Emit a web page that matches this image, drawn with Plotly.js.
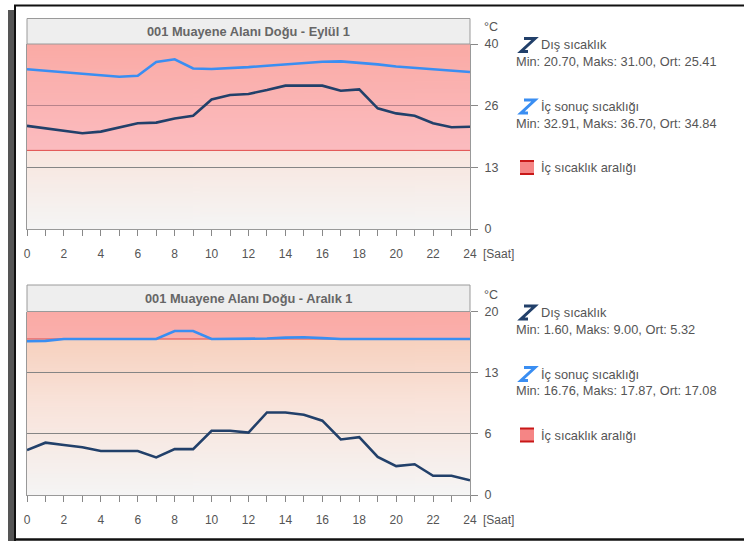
<!DOCTYPE html>
<html>
<head>
<meta charset="utf-8">
<script src="https://cdn.plot.ly/plotly-3.0.1.min.js"></script>
<style>
html,body{margin:0;padding:0;background:#fff;}
#chart{width:744px;height:541px;}
</style>
</head>
<body>
<div id="chart"></div>
<script>
// ---- data ----
const hours = [0,1,2,3,4,5,6,7,8,9,10,11,12,13,14,15,16,17,18,19,20,21,22,23,24];
const xTickVals = [0,2,4,6,8,10,12,14,16,18,20,22,24];

// Chart 1: Eylül 1
const title1 = "001 Muayene Alanı Doğu - Eylül 1";
const disSep = [22.3,21.8,21.2,20.7,21.05,21.9,22.85,23.0,23.9,24.5,28.0,28.97,29.2,30.05,31.0,31.0,31.0,29.9,30.2,26.1,25.0,24.5,22.85,22.0,22.1];
const icSep  = [34.55,34.25,33.95,33.65,33.35,32.91,33.15,36.1,36.7,34.7,34.6,34.75,35.0,35.3,35.6,35.9,36.15,36.25,36.0,35.6,35.15,34.85,34.55,34.25,33.95];
const rangeLowSep  = hours.map(()=>17);
const rangeHighSep = hours.map(()=>40);
const yTickVals1 = [0, 40/3, 80/3, 40];
const yTickText1 = ["0","13","26","40"];
const legendSep = {
  dis: "Dış sıcaklık", disStats: "Min: 20.70, Maks: 31.00, Ort: 25.41",
  ic: "İç sonuç sıcaklığı", icStats: "Min: 32.91, Maks: 36.70, Ort: 34.84",
  range: "İç sıcaklık aralığı"
};

// Chart 2: Aralık 1
const title2 = "001 Muayene Alanı Doğu - Aralık 1";
const disDec = [4.9,5.7,5.45,5.2,4.8,4.8,4.8,4.1,5.0,5.0,7.0,7.0,6.8,9.0,9.0,8.75,8.1,6.05,6.3,4.15,3.15,3.35,2.1,2.1,1.6];
const icDec  = [16.76,16.8,17.0,17.0,17.0,17.0,17.0,17.0,17.87,17.87,17.0,17.0,17.0,17.05,17.15,17.2,17.1,17.0,17.0,17.0,17.0,17.0,17.0,17.0,17.0];
const rangeLowDec  = hours.map(()=>17);
const rangeHighDec = hours.map(()=>20);
const yTickVals2 = [0, 20/3, 40/3, 20];
const yTickText2 = ["0","6","13","20"];
const legendDec = {
  dis: "Dış sıcaklık", disStats: "Min: 1.60, Maks: 9.00, Ort: 5.32",
  ic: "İç sonuç sıcaklığı", icStats: "Min: 16.76, Maks: 17.87, Ort: 17.08",
  range: "İç sıcaklık aralığı"
};
const unitY = "°C";
const unitX = "[Saat]";

// ---- styling helpers ----
const W = 744, H = 541;
const X = px => px/W;
const Y = py => 1 - py/H;
const FONT = "Liberation Sans, Arial, sans-serif";
const TXT = "#555555";
const DARK = "#22406a";
const BLUE = "#3a8ef2";
const BANDLINE = "#e04a4a";
const BANDFILL = "rgba(255,128,148,0.42)";

// gradient background image
function gradientURL(){
  const c = document.createElement('canvas');
  c.width = 4; c.height = 200;
  const g = c.getContext('2d');
  const gr = g.createLinearGradient(0,0,0,200);
  gr.addColorStop(0, '#f6c9b2');
  gr.addColorStop(0.5, '#f9e3da');
  gr.addColorStop(1, '#f5f5f5');
  g.fillStyle = gr; g.fillRect(0,0,4,200);
  return c.toDataURL();
}
const bg = gradientURL();

const plotL = 27, plotR = 470;
const p1 = {top:44, bot:229, titleTop:18.5};
const p2 = {top:311.5, bot:495, titleTop:285};

function traces(xa, ya, low, high, dis, ic){
  return [
    {x:hours, y:low, xaxis:xa, yaxis:ya, type:'scatter', mode:'lines',
     line:{color:BANDLINE, width:1}, hoverinfo:'skip', showlegend:false},
    {x:hours, y:high, xaxis:xa, yaxis:ya, type:'scatter', mode:'lines',
     line:{color:'rgba(0,0,0,0)', width:0}, fill:'tonexty', fillcolor:BANDFILL,
     hoverinfo:'skip', showlegend:false},
    {x:hours, y:dis, xaxis:xa, yaxis:ya, type:'scatter', mode:'lines',
     line:{color:DARK, width:2.6}, showlegend:false},
    {x:hours, y:ic, xaxis:xa, yaxis:ya, type:'scatter', mode:'lines',
     line:{color:BLUE, width:2.6}, showlegend:false}
  ];
}

const data = [
  ...traces('x','y', rangeLowSep, rangeHighSep, disSep, icSep),
  ...traces('x2','y2', rangeLowDec, rangeHighDec, disDec, icDec)
];

function xaxisDef(anchor){
  return {
    domain:[X(plotL), X(plotR)], anchor:anchor, range:[0,24],
    tickmode:'array', tickvals:xTickVals, ticktext:xTickVals.map(String),
    ticks:'outside', ticklen:6, tickcolor:'#888', tickwidth:1,
    minor:{tickmode:'linear', tick0:0, dtick:1, ticks:'outside', ticklen:6, tickcolor:'#888', tickwidth:1, showgrid:false},
    showline:true, linecolor:'#999', linewidth:1,
    showgrid:false, zeroline:false, fixedrange:true,
    tickfont:{family:FONT, size:12, color:TXT}, ticklabelstandoff:8
  };
}
function yaxisDef(anchor, p, rng, tv, tt){
  return {
    domain:[Y(p.bot), Y(p.top)], anchor:anchor, side:'right', range:rng,
    tickmode:'array', tickvals:tv, ticktext:tt,
    ticks:'outside', ticklen:7, tickcolor:'#888', tickwidth:1,
    showline:true, linecolor:'#999', linewidth:1, mirror:true,
    showgrid:true, gridcolor:'#858585', gridwidth:1, zeroline:false, fixedrange:true,
    tickfont:{family:FONT, size:12.5, color:TXT}, ticklabelstandoff:4
  };
}

const shapes = [];
const annotations = [];
const images = [];

function addPanel(p, title, leg){
  images.push({source:bg, xref:'paper', yref:'paper', x:X(plotL), y:Y(p.top),
    sizex:X(plotR)-X(plotL), sizey:Y(p.top)-Y(p.bot), sizing:'stretch',
    xanchor:'left', yanchor:'top', layer:'below'});
  shapes.push({type:'rect', xref:'paper', yref:'paper', x0:X(plotL), x1:X(plotR),
    y0:Y(p.top), y1:Y(p.titleTop), fillcolor:'#eeeeee', line:{color:'#9a9a9a', width:1}});
  annotations.push({xref:'paper', yref:'paper', x:X((plotL+plotR)/2), y:Y((p.top+p.titleTop)/2),
    text:'<b>'+title+'</b>', showarrow:false, xanchor:'center', yanchor:'middle',
    font:{family:FONT, size:12.8, color:'#666'}});
  annotations.push({xref:'paper', yref:'paper', x:X(482), y:Y(p.top-17), text:unitY,
    showarrow:false, xanchor:'left', yanchor:'middle', font:{family:FONT, size:12.5, color:TXT}});
  annotations.push({xref:'paper', yref:'paper', x:X(481), y:Y(p.bot+25), text:unitX,
    showarrow:false, xanchor:'left', yanchor:'middle', font:{family:FONT, size:12, color:TXT}});
  const t0 = p.top + 1;
  const rows = [
    {dy:0, color:DARK, label:leg.dis, stats:leg.disStats},
    {dy:61.5, color:BLUE, label:leg.ic, stats:leg.icStats}
  ];
  rows.forEach(r=>{
    const cy = t0 + r.dy;
    shapes.push({type:'path', xref:'paper', yref:'paper',
      path:`M ${X(524)} ${Y(cy-6.5)} L ${X(535)} ${Y(cy-6.5)} L ${X(521)} ${Y(cy+6.5)} L ${X(528)} ${Y(cy+6.5)}`,
      line:{color:r.color, width:3}});
    annotations.push({xref:'paper', yref:'paper', x:X(539), y:Y(cy), text:r.label,
      showarrow:false, xanchor:'left', yanchor:'middle', font:{family:FONT, size:12.8, color:TXT}});
    annotations.push({xref:'paper', yref:'paper', x:X(514), y:Y(cy+16.5), text:r.stats,
      showarrow:false, xanchor:'left', yanchor:'middle', font:{family:FONT, size:12.8, color:TXT}});
  });
  const ry = t0 + 122.5;
  shapes.push({type:'rect', xref:'paper', yref:'paper', x0:X(520), x1:X(534), y0:Y(ry+7), y1:Y(ry-7),
    fillcolor:'#f58585', line:{width:0}});
  shapes.push({type:'line', xref:'paper', yref:'paper', x0:X(520), x1:X(534), y0:Y(ry-6.5), y1:Y(ry-6.5),
    line:{color:'#c81818', width:2}});
  shapes.push({type:'line', xref:'paper', yref:'paper', x0:X(520), x1:X(534), y0:Y(ry+6.5), y1:Y(ry+6.5),
    line:{color:'#c81818', width:2}});
  annotations.push({xref:'paper', yref:'paper', x:X(539), y:Y(ry), text:leg.range,
    showarrow:false, xanchor:'left', yanchor:'middle', font:{family:FONT, size:12.8, color:TXT}});
}
addPanel(p1, title1, legendSep);
addPanel(p2, title2, legendDec);

// outer frame
shapes.push({type:'rect', xref:'paper', yref:'paper', x0:X(8), x1:X(14), y0:Y(541), y1:Y(10),
  fillcolor:'#555', line:{width:0}});
shapes.push({type:'line', xref:'paper', yref:'paper', x0:X(15), x1:X(15), y0:Y(541), y1:Y(5),
  line:{color:'#111', width:2}});
shapes.push({type:'line', xref:'paper', yref:'paper', x0:X(14), x1:X(744), y0:Y(5.5), y1:Y(5.5),
  line:{color:'#111', width:2}});
shapes.push({type:'line', xref:'paper', yref:'paper', x0:X(14), x1:X(744), y0:Y(539.5), y1:Y(539.5),
  line:{color:'#111', width:2.5}});

const layout = {
  width:W, height:H, margin:{l:0,r:0,t:0,b:0},
  paper_bgcolor:'#ffffff', plot_bgcolor:'rgba(0,0,0,0)',
  showlegend:false,
  xaxis: xaxisDef('y'),
  yaxis: yaxisDef('x', p1, [0,40], yTickVals1, yTickText1),
  xaxis2: xaxisDef('y2'),
  yaxis2: yaxisDef('x2', p2, [0,20], yTickVals2, yTickText2),
  shapes:shapes, annotations:annotations, images:images,
  font:{family:FONT, color:TXT}
};

Plotly.newPlot('chart', data, layout, {staticPlot:true, displayModeBar:false});
</script>
</body>
</html>
